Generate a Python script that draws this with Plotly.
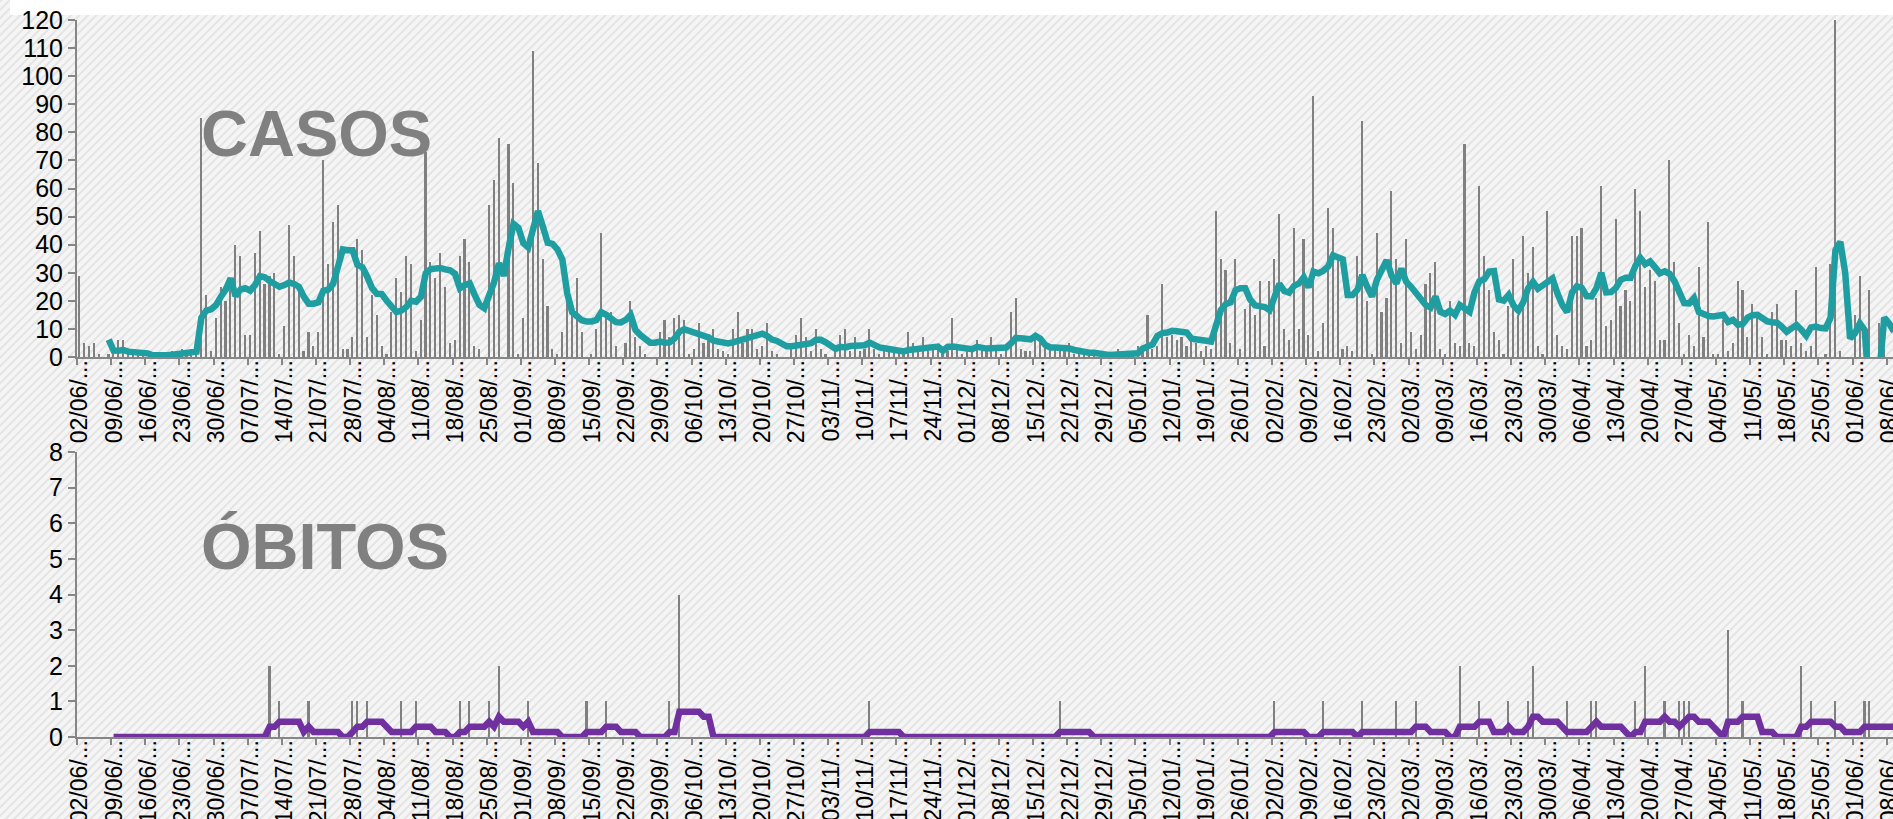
import base64
import pandas as pd
import plotly.graph_objects as go

# ---------------------------------------------------------------- data
START = "2020-06-02"

# daily new cases, one value per day from 02/06/2020
daily_cases = [
    29, 5, 4, 5, 1, 0, 1, 2, 6, 6,
    1, 2, 2, 1, 0, 0, 0, 1, 0, 2,
    1, 3, 1, 3, 2, 85, 22, 2, 14, 25,
    20, 27, 40, 36, 8, 8, 37, 45, 26, 29,
    30, 1, 11, 47, 36, 26, 2, 9, 4, 9,
    70, 33, 48, 54, 3, 3, 7, 42, 38, 7,
    22, 15, 4, 1, 16, 28, 23, 36, 33, 2,
    13, 73, 34, 28, 37, 25, 5, 6, 36, 42,
    34, 4, 3, 0, 54, 63, 78, 0, 76, 62,
    1, 14, 42, 109, 69, 35, 18, 3, 1, 9,
    24, 18, 28, 9, 0, 1, 10, 44, 14, 16,
    4, 0, 5, 20, 7, 4, 1, 0, 0, 9,
    13, 7, 14, 15, 13, 1, 3, 12, 5, 6,
    10, 3, 2, 1, 10, 16, 5, 10, 10, 3,
    4, 12, 2, 1, 0, 0, 3, 8, 14, 7,
    2, 10, 3, 1, 0, 2, 8, 10, 2, 7,
    2, 3, 10, 3, 1, 2, 2, 2, 2, 2,
    9, 5, 2, 7, 2, 3, 3, 1, 2, 14,
    4, 1, 2, 2, 6, 4, 2, 7, 2, 1,
    3, 16, 21, 3, 2, 2, 6, 7, 4, 3,
    3, 2, 2, 5, 1, 1, 1, 1, 2, 0,
    1, 0, 1, 3, 1, 0, 1, 4, 2, 15,
    3, 4, 26, 7, 8, 6, 7, 4, 7, 5,
    2, 4, 3, 52, 35, 31, 5, 35, 3, 17,
    19, 15, 27, 4, 27, 35, 51, 10, 6, 46,
    10, 42, 8, 93, 2, 12, 53, 46, 35, 3,
    4, 2, 36, 84, 20, 1, 44, 16, 21, 59,
    35, 5, 42, 9, 3, 8, 26, 30, 34, 3,
    1, 20, 5, 4, 76, 5, 4, 61, 36, 24,
    9, 6, 1, 18, 35, 15, 43, 30, 39, 4,
    1, 52, 27, 8, 4, 3, 43, 43, 46, 4,
    6, 21, 61, 11, 13, 49, 18, 24, 20, 60,
    52, 25, 31, 27, 6, 6, 70, 34, 12, 1,
    8, 4, 32, 7, 48, 1, 1, 13, 2, 5,
    27, 24, 7, 19, 16, 7, 1, 16, 19, 6,
    6, 4, 24, 5, 2, 4, 32, 0, 1, 33,
    120, 2, 0, 0, 15, 29, 0, 24, 0, 12,
    3, 0, 0,
]

# 7-day moving average of cases (same days as daily_cases)
avg_cases = [
    None, None, None, None, None, None, 6.2, 2.3, 2.2, 2.5,
    1.9, 1.7, 1.9, 1.8, 1.3, 0.6, 0.5, 0.5, 0.6, 0.8,
    1.1, 1.5, 1.5, 1.7, 1.9, 14, 16.5, 17, 18.5, 21.5,
    24, 28, 21.7, 24, 24.5, 23.6, 25.6, 28.8, 28.4, 27,
    26, 25, 25.6, 26.5, 26, 25, 21.5, 19, 19, 19.5,
    23.6, 24, 26, 33, 38.3, 38, 38, 32.8, 32, 28.6,
    24.5, 22.5, 22.4, 20, 17.5, 16, 16.5, 17.8, 20, 19.7,
    21.4, 29.8, 31.3, 31.8, 31.7, 31.2, 30.9, 29.6, 24.5, 25.6,
    26.2, 22.2, 18.6, 17.4, 22.4, 26.6, 33.4, 28.9, 39, 47.4,
    46, 40.5, 39, 46, 52, 46.5, 40.7, 40.3, 38.3, 34.7,
    22.7, 16, 14.3, 13.1, 12.6, 12.6, 13.2, 15.9, 15, 13.3,
    12.4, 12.3, 13.2, 15, 9.6, 7.8, 6.1, 5.1, 5.1, 5.5,
    5.1, 5.2, 6.6, 9, 9.9, 9.3, 8.8, 8.7, 8, 7,
    5.8, 5.5, 5.3, 4.8, 5.2, 5.8, 5.8, 6.6, 7.5, 8,
    8.3, 7.5, 6.2, 5.7, 4.5, 3.8, 3.8, 4, 4.5, 4.9,
    4.9, 6.1, 6.1, 5.2, 3.8, 2.9, 3.6, 3.4, 3.9, 4,
    4, 4.2, 5.1, 3.9, 3.4, 3.1, 2.8, 2.8, 2.7, 2,
    2.5, 2.7, 2.9, 3.1, 3.1, 3.4, 3.7, 2.2, 3.6, 3.7,
    3.5, 3.2, 2.8, 2.8, 3.6, 3, 3, 3.1, 3.1, 3.2,
    3.4, 4.9, 6.8, 6.7, 6.2, 6.3, 7.5, 6.5, 4.3, 3.4,
    3.4, 3.4, 3.4, 3, 2.5, 2, 1.6, 1.5, 1.5, 1.1,
    0.8, 0.7, 0.8, 0.9, 0.9, 0.9, 0.9, 1.3, 3, 3.7,
    4.5, 7.5, 8.5, 8.7, 9.3, 9.2, 8.8, 8.7, 6.5, 6.1,
    6, 5.8, 5.5, 12, 16.7, 18.8, 19.5, 23.8, 24.5, 24.5,
    20.5, 18.4, 18.1, 17.8, 16.7, 21.2, 26, 23.5, 22.9, 25.3,
    26.2, 28.4, 24.8, 30.4, 29.8, 30.7, 32.2, 36.2, 35.7, 34.8,
    22.1, 22.1, 23.9, 29.2, 25, 21.5, 27.5, 30.5, 34.5, 29,
    26.2, 31.5, 26.8, 25, 22.9, 20.5, 18.5, 17.6, 21.5, 16.1,
    15.3, 16.5, 15, 18.5, 17, 16.1, 23, 27, 27.7, 30.4,
    30.6, 20.5, 20.1, 22.1, 18.4, 16.5, 19.5, 24.5, 26.8, 24.3,
    25.5, 26.8, 28, 22.7, 18.5, 16, 23, 25.2, 24.6, 21.7,
    21.6, 24.5, 30, 23, 23.1, 24.6, 27.5, 28.2, 28.2, 32.5,
    35.3, 33, 34, 32, 29.8, 30.5, 29.6, 27, 22.5, 19.2,
    19.1, 21, 16, 15, 14.6, 14.4, 14.8, 15, 12.5, 13.2,
    11.5, 11.8, 14, 14.9, 15, 13.8, 12.7, 12.4, 12.2, 10.8,
    9, 10.2, 11.4, 9.7, 7.6, 10.5, 10.8, 10.3, 10.2, 14,
    38, 41, 30, 6.6, 8.4, 12, 9.6, -15, -17, -6,
    14, 12, 9,
]

# deaths: only the days with at least one death
death_dates = [
    "2020-07-11", "2020-07-13", "2020-07-19", "2020-07-28", "2020-07-29",
    "2020-07-31", "2020-08-07", "2020-08-10", "2020-08-19", "2020-08-21",
    "2020-08-25", "2020-08-27", "2020-09-02", "2020-09-14", "2020-09-18",
    "2020-10-01", "2020-10-03", "2020-11-11", "2020-12-20", "2021-02-02",
    "2021-02-12", "2021-02-20", "2021-02-27", "2021-03-03", "2021-03-12",
    "2021-03-16", "2021-03-22", "2021-03-26", "2021-03-27", "2021-04-03",
    "2021-04-08", "2021-04-09", "2021-04-17", "2021-04-19", "2021-04-23",
    "2021-04-26", "2021-04-27", "2021-04-28", "2021-05-06", "2021-05-09",
    "2021-05-21", "2021-05-23", "2021-05-28", "2021-06-03", "2021-06-04",
]
death_counts = [
    2, 1, 1, 1, 1,
    1, 1, 1, 1, 1,
    1, 2, 1, 1, 1,
    1, 4, 1, 1, 1,
    1, 1, 1, 1, 2,
    1, 1, 1, 2, 1,
    1, 1, 1, 2, 1,
    1, 1, 1, 3, 1,
    2, 1, 1, 1, 1,
]

# 7-day moving average of deaths, given at the days where the line bends
death_avg_dates = [
    "2020-06-09", "2020-07-10", "2020-07-11", "2020-07-12", "2020-07-13",
    "2020-07-17", "2020-07-18", "2020-07-19", "2020-07-20", "2020-07-25",
    "2020-07-26", "2020-07-27", "2020-07-28", "2020-07-29", "2020-07-30",
    "2020-07-31", "2020-08-03", "2020-08-04", "2020-08-05", "2020-08-09",
    "2020-08-10", "2020-08-13", "2020-08-14", "2020-08-16", "2020-08-17",
    "2020-08-18", "2020-08-19", "2020-08-20", "2020-08-21", "2020-08-24",
    "2020-08-25", "2020-08-26", "2020-08-27", "2020-08-28", "2020-08-31",
    "2020-09-01", "2020-09-02", "2020-09-03", "2020-09-08", "2020-09-09",
    "2020-09-13", "2020-09-14", "2020-09-17", "2020-09-18", "2020-09-20",
    "2020-09-21", "2020-09-24", "2020-09-25", "2020-09-30", "2020-10-01",
    "2020-10-02", "2020-10-03", "2020-10-07", "2020-10-08", "2020-10-09",
    "2020-10-10", "2020-11-10", "2020-11-11", "2020-11-17", "2020-11-18",
    "2020-12-19", "2020-12-20", "2020-12-26", "2020-12-27", "2021-02-01",
    "2021-02-02", "2021-02-08", "2021-02-09", "2021-02-11", "2021-02-12",
    "2021-02-18", "2021-02-19", "2021-02-20", "2021-03-02", "2021-03-03",
    "2021-03-05", "2021-03-06", "2021-03-09", "2021-03-10", "2021-03-11",
    "2021-03-12", "2021-03-15", "2021-03-16", "2021-03-18", "2021-03-19",
    "2021-03-21", "2021-03-22", "2021-03-23", "2021-03-25", "2021-03-26",
    "2021-03-27", "2021-03-28", "2021-03-29", "2021-04-01", "2021-04-02",
    "2021-04-03", "2021-04-07", "2021-04-08", "2021-04-09", "2021-04-10",
    "2021-04-14", "2021-04-15", "2021-04-16", "2021-04-17", "2021-04-18",
    "2021-04-19", "2021-04-22", "2021-04-23", "2021-04-24", "2021-04-25",
    "2021-04-26", "2021-04-27", "2021-04-28", "2021-04-29", "2021-04-30",
    "2021-05-02", "2021-05-03", "2021-05-04", "2021-05-05", "2021-05-06",
    "2021-05-08", "2021-05-09", "2021-05-12", "2021-05-13", "2021-05-15",
    "2021-05-16", "2021-05-20", "2021-05-21", "2021-05-22", "2021-05-23",
    "2021-05-27", "2021-05-28", "2021-05-29", "2021-05-30", "2021-06-02",
    "2021-06-03", "2021-06-09",
]
death_avg_values = [
    0, 0, 0.29, 0.29, 0.43,
    0.43, 0.14, 0.29, 0.14, 0.14,
    0, 0, 0.14, 0.29, 0.29,
    0.43, 0.43, 0.29, 0.14, 0.14,
    0.29, 0.29, 0.14, 0.14, 0,
    0, 0.14, 0.14, 0.29, 0.29,
    0.43, 0.29, 0.57, 0.43, 0.43,
    0.29, 0.43, 0.14, 0.14, 0,
    0, 0.14, 0.14, 0.29, 0.29,
    0.14, 0.14, 0, 0, 0.14,
    0.14, 0.71, 0.71, 0.57, 0.57,
    0, 0, 0.14, 0.14, 0,
    0, 0.14, 0.14, 0, 0,
    0.14, 0.14, 0, 0, 0.14,
    0.14, 0, 0.14, 0.14, 0.29,
    0.29, 0.14, 0.14, 0, 0,
    0.29, 0.29, 0.43, 0.43, 0.14,
    0.14, 0.29, 0.14, 0.14, 0.29,
    0.57, 0.57, 0.43, 0.43, 0.29,
    0.14, 0.14, 0.29, 0.43, 0.29,
    0.29, 0.14, 0, 0.14, 0.14,
    0.43, 0.43, 0.57, 0.43, 0.43,
    0.29, 0.43, 0.57, 0.57, 0.43,
    0.43, 0.29, 0.14, 0, 0.43,
    0.43, 0.57, 0.57, 0.14, 0.14,
    0, 0, 0.29, 0.29, 0.43,
    0.43, 0.29, 0.29, 0.14, 0.14,
    0.29, 0.29,
]

week_labels = [
    "02/06", "09/06", "16/06", "23/06", "30/06", "07/07", "14/07", "21/07",
    "28/07", "04/08", "11/08", "18/08", "25/08", "01/09", "08/09", "15/09",
    "22/09", "29/09", "06/10", "13/10", "20/10", "27/10", "03/11", "10/11",
    "17/11", "24/11", "01/12", "08/12", "15/12", "22/12", "29/12", "05/01",
    "12/01", "19/01", "26/01", "02/02", "09/02", "16/02", "23/02", "02/03",
    "09/03", "16/03", "23/03", "30/03", "06/04", "13/04", "20/04", "27/04",
    "04/05", "11/05", "18/05", "25/05", "01/06", "08/06",
]

# ---------------------------------------------------------------- styling
W, H = 1893, 819
FONT = "Liberation Sans, Arial, sans-serif"
AXIS_GREY = "#868686"
BAR_GREY = "#808080"
TEAL = "#1f9ea2"
PURPLE = "#7030a0"
HALF_DAY = pd.Timedelta(hours=12)
DAY_MS = 86400000

days = pd.date_range(START, periods=len(daily_cases), freq="D") + HALF_DAY
tick_dates = pd.date_range(START, periods=len(week_labels), freq="7D")
tick_text = [lab + "/..." for lab in week_labels]
x_range = [pd.Timestamp(START), pd.Timestamp(START) + pd.Timedelta(days=372.3)]

# pixel layout of the two panels (top-left origin) turned into paper fractions
left_px = 77
top_panel = (20, 357)
bottom_panel = (452, 737)


def ydom(px):
    return [1 - px[1] / H, 1 - px[0] / H]


# diagonal hatch used as page background
hatch_svg = (
    f"<svg xmlns='http://www.w3.org/2000/svg' width='{W}' height='{H}'>"
    "<defs><pattern id='h' width='6' height='6' patternUnits='userSpaceOnUse' "
    "patternTransform='rotate(45)'>"
    "<rect width='6' height='6' fill='#f5f5f5'/>"
    "<rect width='2' height='6' fill='#e4e4e4'/>"
    "</pattern></defs>"
    f"<rect width='{W}' height='{H}' fill='url(#h)'/></svg>"
)
hatch_uri = "data:image/svg+xml;base64," + base64.b64encode(hatch_svg.encode()).decode()

fig = go.Figure()

fig.add_trace(go.Bar(
    x=days, y=daily_cases, width=0.34 * DAY_MS,
    marker=dict(color=BAR_GREY, line=dict(width=0)),
    xaxis="x", yaxis="y", showlegend=False, hoverinfo="skip",
))
fig.add_trace(go.Scatter(
    x=days, y=avg_cases, mode="lines",
    line=dict(color=TEAL, width=6.5),
    xaxis="x", yaxis="y", showlegend=False, hoverinfo="skip",
))

fig.add_trace(go.Bar(
    x=pd.to_datetime(death_dates) + HALF_DAY, y=death_counts, width=0.34 * DAY_MS,
    marker=dict(color=BAR_GREY, line=dict(width=0)),
    xaxis="x2", yaxis="y2", showlegend=False, hoverinfo="skip",
))
fig.add_trace(go.Scatter(
    x=pd.to_datetime(death_avg_dates) + HALF_DAY, y=death_avg_values, mode="lines",
    line=dict(color=PURPLE, width=6.5),
    xaxis="x2", yaxis="y2", showlegend=False, hoverinfo="skip",
))

xaxis_style = dict(
    type="date", range=x_range, domain=[left_px / W, 1],
    showgrid=False, zeroline=False,
    showline=True, linecolor=AXIS_GREY, linewidth=2,
    ticks="outside", ticklen=6, tickwidth=1.5, tickcolor=AXIS_GREY,
    tickvals=tick_dates, ticktext=tick_text, tickangle=-90,
    tickfont=dict(family=FONT, size=23, color="#000000"),
    ticklabelshift=3, ticklabelstandoff=-14, ticklabeloverflow="allow",
)
yaxis_style = dict(
    showgrid=False, zeroline=False,
    showline=True, linecolor=AXIS_GREY, linewidth=2,
    ticks="outside", ticklen=7, tickwidth=1.5, tickcolor=AXIS_GREY,
    tickfont=dict(family=FONT, size=25, color="#000000"),
)

fig.update_layout(
    width=W, height=H,
    margin=dict(l=0, r=0, t=0, b=0, autoexpand=False),
    paper_bgcolor="rgba(0,0,0,0)",
    plot_bgcolor="rgba(0,0,0,0)",
    bargap=0,
    xaxis=dict(xaxis_style, anchor="y"),
    xaxis2=dict(xaxis_style, anchor="y2"),
    yaxis=dict(yaxis_style, domain=ydom(top_panel), range=[0, 120],
               tickvals=list(range(0, 121, 10)), anchor="x"),
    yaxis2=dict(yaxis_style, domain=ydom(bottom_panel), range=[0, 8],
                tickvals=list(range(0, 9)), anchor="x2"),
    images=[dict(
        source=hatch_uri, xref="paper", yref="paper", x=0, y=1,
        sizex=1, sizey=1, xanchor="left", yanchor="top",
        sizing="stretch", layer="below",
    )],
    shapes=[dict(
        type="rect", xref="paper", yref="paper",
        x0=10 / W, x1=1, y0=1 - 15 / H, y1=1,
        fillcolor="#ffffff", line=dict(width=0), layer="below",
    )],
    annotations=[
        dict(text="<b>CASOS</b>", xref="paper", yref="paper",
             x=316 / W, y=1 - 134 / H, xanchor="center", yanchor="middle",
             showarrow=False, font=dict(family=FONT, size=65, color="#808080")),
        dict(text="<b>ÓBITOS</b>", xref="paper", yref="paper",
             x=325 / W, y=1 - 546 / H, xanchor="center", yanchor="middle",
             showarrow=False, font=dict(family=FONT, size=65, color="#808080")),
    ],
)

# keep the page exactly the size of the figure: no body margin, nothing spilling out
page_css = (
    "var s=document.createElement('style');"
    "s.textContent='html,body{margin:0;padding:0;overflow:hidden;width:1893px;height:819px}"
    ".js-plotly-plot,.plot-container,.svg-container{overflow:hidden !important}"
    ".main-svg{overflow:hidden}';"
    "document.head.appendChild(s);"
)

fig.write_html(
    "out.html",
    config={"displayModeBar": False},
    post_script=page_css,
)
